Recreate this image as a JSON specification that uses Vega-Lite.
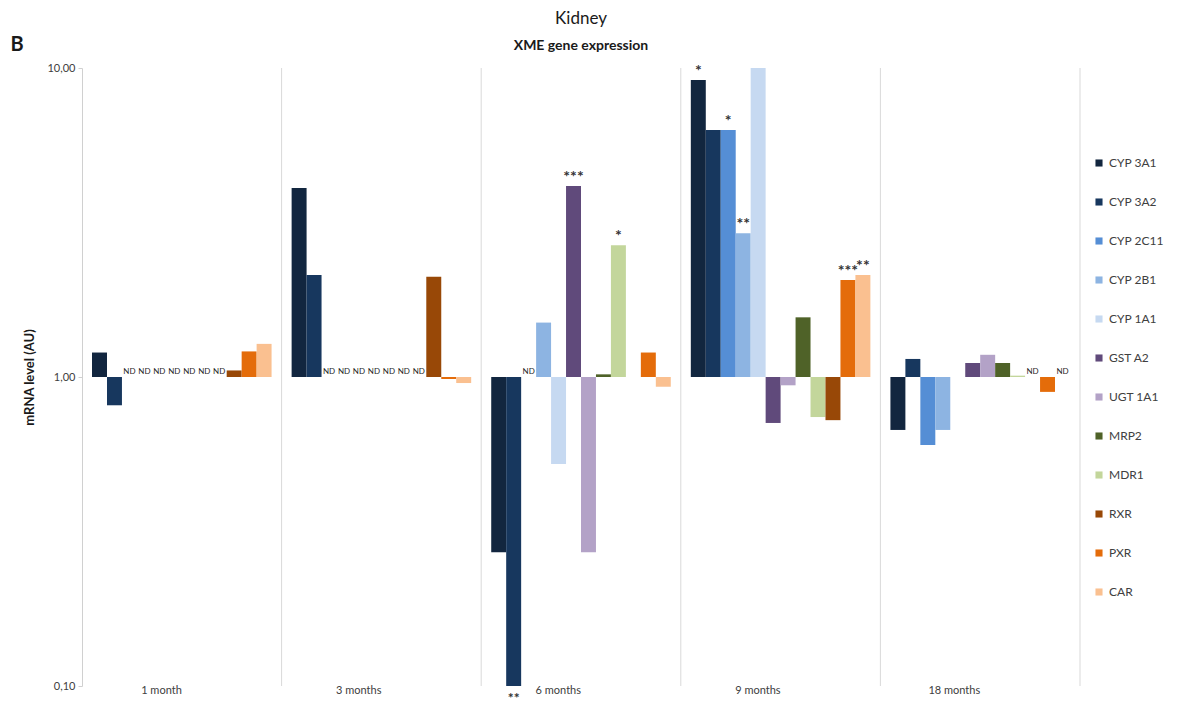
{
  "$schema": "https://vega.github.io/schema/vega-lite/v6.json",
  "width": 998,
  "height": 618,
  "autosize": {"type": "none"},
  "padding": {"left": 82, "top": 68, "right": 107, "bottom": 20},
  "background": "white",
  "config": {
    "view": {"stroke": null},
    "font": "Lato",
    "axis": {"labelFont": "Lato", "titleFont": "Lato"},
    "legend": {"labelFont": "Lato"}
  },
  "title": {
    "text": "Kidney",
    "subtitle": "XME gene expression",
    "anchor": "middle",
    "font": "Lato",
    "fontSize": 17,
    "fontWeight": "normal",
    "color": "#1a1a1a",
    "subtitleFont": "Lato",
    "subtitleFontSize": 14,
    "subtitleFontWeight": "bold",
    "subtitleColor": "#1a1a1a",
    "subtitlePadding": 11,
    "offset": -19
  },
  "datasets": {
    "groups": [
      {"t": "1 month"}, {"t": "3 months"}, {"t": "6 months"}, {"t": "9 months"}, {"t": "18 months"}
    ],
    "panel": [
      {"t": "1 month", "v": 10, "lab": "B"}
    ],
    "bars": [
      {"t": "1 month", "gene": "CYP 3A1", "v": 1.20},
      {"t": "1 month", "gene": "CYP 3A2", "v": 0.81},
      {"t": "1 month", "gene": "RXR", "v": 1.05},
      {"t": "1 month", "gene": "PXR", "v": 1.21},
      {"t": "1 month", "gene": "CAR", "v": 1.28},
      {"t": "3 months", "gene": "CYP 3A1", "v": 4.09},
      {"t": "3 months", "gene": "CYP 3A2", "v": 2.14},
      {"t": "3 months", "gene": "RXR", "v": 2.11},
      {"t": "3 months", "gene": "PXR", "v": 0.985},
      {"t": "3 months", "gene": "CAR", "v": 0.956},
      {"t": "6 months", "gene": "CYP 3A1", "v": 0.271},
      {"t": "6 months", "gene": "CYP 3A2", "v": 0.1},
      {"t": "6 months", "gene": "CYP 2B1", "v": 1.50},
      {"t": "6 months", "gene": "CYP 1A1", "v": 0.523},
      {"t": "6 months", "gene": "GST A2", "v": 4.15},
      {"t": "6 months", "gene": "UGT 1A1", "v": 0.271},
      {"t": "6 months", "gene": "MRP2", "v": 1.02},
      {"t": "6 months", "gene": "MDR1", "v": 2.67},
      {"t": "6 months", "gene": "PXR", "v": 1.20},
      {"t": "6 months", "gene": "CAR", "v": 0.93},
      {"t": "9 months", "gene": "CYP 3A1", "v": 9.15},
      {"t": "9 months", "gene": "CYP 3A2", "v": 6.3},
      {"t": "9 months", "gene": "CYP 2C11", "v": 6.3},
      {"t": "9 months", "gene": "CYP 2B1", "v": 2.92},
      {"t": "9 months", "gene": "CYP 1A1", "v": 10},
      {"t": "9 months", "gene": "GST A2", "v": 0.71},
      {"t": "9 months", "gene": "UGT 1A1", "v": 0.94},
      {"t": "9 months", "gene": "MRP2", "v": 1.56},
      {"t": "9 months", "gene": "MDR1", "v": 0.742},
      {"t": "9 months", "gene": "RXR", "v": 0.725},
      {"t": "9 months", "gene": "PXR", "v": 2.06},
      {"t": "9 months", "gene": "CAR", "v": 2.14},
      {"t": "18 months", "gene": "CYP 3A1", "v": 0.674},
      {"t": "18 months", "gene": "CYP 3A2", "v": 1.144},
      {"t": "18 months", "gene": "CYP 2C11", "v": 0.602},
      {"t": "18 months", "gene": "CYP 2B1", "v": 0.674},
      {"t": "18 months", "gene": "GST A2", "v": 1.11},
      {"t": "18 months", "gene": "UGT 1A1", "v": 1.18},
      {"t": "18 months", "gene": "MRP2", "v": 1.11},
      {"t": "18 months", "gene": "MDR1", "v": 1.01},
      {"t": "18 months", "gene": "PXR", "v": 0.895}
    ],
    "nd": [
      {"t": "1 month", "gene": "CYP 2C11"}, {"t": "1 month", "gene": "CYP 2B1"}, {"t": "1 month", "gene": "CYP 1A1"},
      {"t": "1 month", "gene": "GST A2"}, {"t": "1 month", "gene": "UGT 1A1"}, {"t": "1 month", "gene": "MRP2"},
      {"t": "1 month", "gene": "MDR1"},
      {"t": "3 months", "gene": "CYP 2C11"}, {"t": "3 months", "gene": "CYP 2B1"}, {"t": "3 months", "gene": "CYP 1A1"},
      {"t": "3 months", "gene": "GST A2"}, {"t": "3 months", "gene": "UGT 1A1"}, {"t": "3 months", "gene": "MRP2"},
      {"t": "3 months", "gene": "MDR1"},
      {"t": "6 months", "gene": "CYP 2C11"},
      {"t": "18 months", "gene": "RXR"}, {"t": "18 months", "gene": "CAR"}
    ],
    "starsUp": [
      {"t": "6 months", "gene": "GST A2", "v": 4.15, "lab": "***"},
      {"t": "6 months", "gene": "MDR1", "v": 2.67, "lab": "*"},
      {"t": "9 months", "gene": "CYP 3A1", "v": 9.15, "lab": "*"},
      {"t": "9 months", "gene": "CYP 2C11", "v": 6.3, "lab": "*"},
      {"t": "9 months", "gene": "CYP 2B1", "v": 2.92, "lab": "**"},
      {"t": "9 months", "gene": "PXR", "v": 2.06, "lab": "***"},
      {"t": "9 months", "gene": "CAR", "v": 2.14, "lab": "**"}
    ],
    "starsDown": [
      {"t": "6 months", "gene": "CYP 3A2", "v": 0.1, "lab": "**"}
    ]
  },
  "layer": [
    {
      "data": {"name": "groups"},
      "mark": {"type": "rule", "color": "#d9d9d9", "strokeWidth": 1},
      "encoding": {
        "x": {"field": "t", "type": "nominal", "bandPosition": 1,
              "sort": ["1 month", "3 months", "6 months", "9 months", "18 months"]}
      }
    },
    {
      "data": {"name": "bars"},
      "mark": {"type": "bar"},
      "encoding": {
        "x": {
          "field": "t", "type": "nominal",
          "sort": ["1 month", "3 months", "6 months", "9 months", "18 months"],
          "scale": {"domain": ["1 month", "3 months", "6 months", "9 months", "18 months"], "paddingInner": 0, "paddingOuter": 0},
          "axis": {"title": null, "labelAngle": 0, "domain": false, "ticks": false, "labelFontSize": 11, "labelColor": "#404040", "labelPadding": 4, "grid": false}
        },
        "xOffset": {
          "field": "gene", "type": "nominal",
          "scale": {"domain": ["CYP 3A1", "CYP 3A2", "CYP 2C11", "CYP 2B1", "CYP 1A1", "GST A2", "UGT 1A1", "MRP2", "MDR1", "RXR", "PXR", "CAR"], "paddingInner": 0, "paddingOuter": 0.67}
        },
        "y": {
          "field": "v", "type": "quantitative",
          "scale": {"type": "log", "domain": [0.1, 10], "nice": false},
          "axis": {
            "title": "mRNA level (AU)", "titleFontSize": 13, "titleFontWeight": "bold", "titleColor": "#1a1a1a", "titlePadding": 10,
            "values": [0.1, 1, 10], "labelExpr": "replace(format(datum.value, '.2f'), '.', ',')",
            "labelFontSize": 11, "labelColor": "#404040", "grid": false,
            "domainColor": "#d0d0d0", "tickColor": "#d0d0d0", "tickSize": 4, "labelPadding": 3
          }
        },
        "y2": {"datum": 1},
        "color": {
          "field": "gene", "type": "nominal",
          "scale": {
            "domain": ["CYP 3A1", "CYP 3A2", "CYP 2C11", "CYP 2B1", "CYP 1A1", "GST A2", "UGT 1A1", "MRP2", "MDR1", "RXR", "PXR", "CAR"],
            "range": ["#12263f", "#17375e", "#558ed5", "#8db4e2", "#c6d9f1", "#604a7b", "#b3a2c7", "#4f6228", "#c3d69b", "#984807", "#e46c0a", "#fac090"]
          },
          "legend": {
            "title": null, "orient": "none", "legendX": 1011, "legendY": 89,
            "symbolType": "square", "symbolSize": 50, "symbolStrokeWidth": 0,
            "labelFontSize": 12, "labelColor": "#404040", "rowPadding": 27, "labelOffset": 4
          }
        }
      }
    },
    {
      "data": {"name": "nd"},
      "mark": {"type": "text", "fontSize": 8, "baseline": "bottom", "dy": -1, "color": "#262626"},
      "encoding": {
        "x": {"field": "t", "type": "nominal"},
        "xOffset": {"field": "gene", "type": "nominal"},
        "y": {"datum": 1, "type": "quantitative"},
        "text": {"value": "ND"}
      }
    },
    {
      "data": {"name": "starsUp"},
      "mark": {"type": "text", "fontSize": 16, "fontWeight": "bold", "baseline": "alphabetic", "dy": -4, "color": "#333333"},
      "encoding": {
        "x": {"field": "t", "type": "nominal"},
        "xOffset": {"field": "gene", "type": "nominal"},
        "y": {"field": "v", "type": "quantitative"},
        "text": {"field": "lab"}
      }
    },
    {
      "data": {"name": "starsDown"},
      "mark": {"type": "text", "fontSize": 14, "fontWeight": "bold", "baseline": "middle", "dy": 13, "color": "#333333"},
      "encoding": {
        "x": {"field": "t", "type": "nominal"},
        "xOffset": {"field": "gene", "type": "nominal"},
        "y": {"field": "v", "type": "quantitative"},
        "text": {"field": "lab"}
      }
    },
    {
      "data": {"name": "panel"},
      "mark": {"type": "text", "fontSize": 20, "fontWeight": "bold", "align": "center", "baseline": "middle", "dx": -65, "dy": -23, "color": "#1a1a1a"},
      "encoding": {
        "x": {"field": "t", "type": "nominal", "bandPosition": 0},
        "y": {"field": "v", "type": "quantitative"},
        "text": {"field": "lab"}
      }
    }
  ]
}
